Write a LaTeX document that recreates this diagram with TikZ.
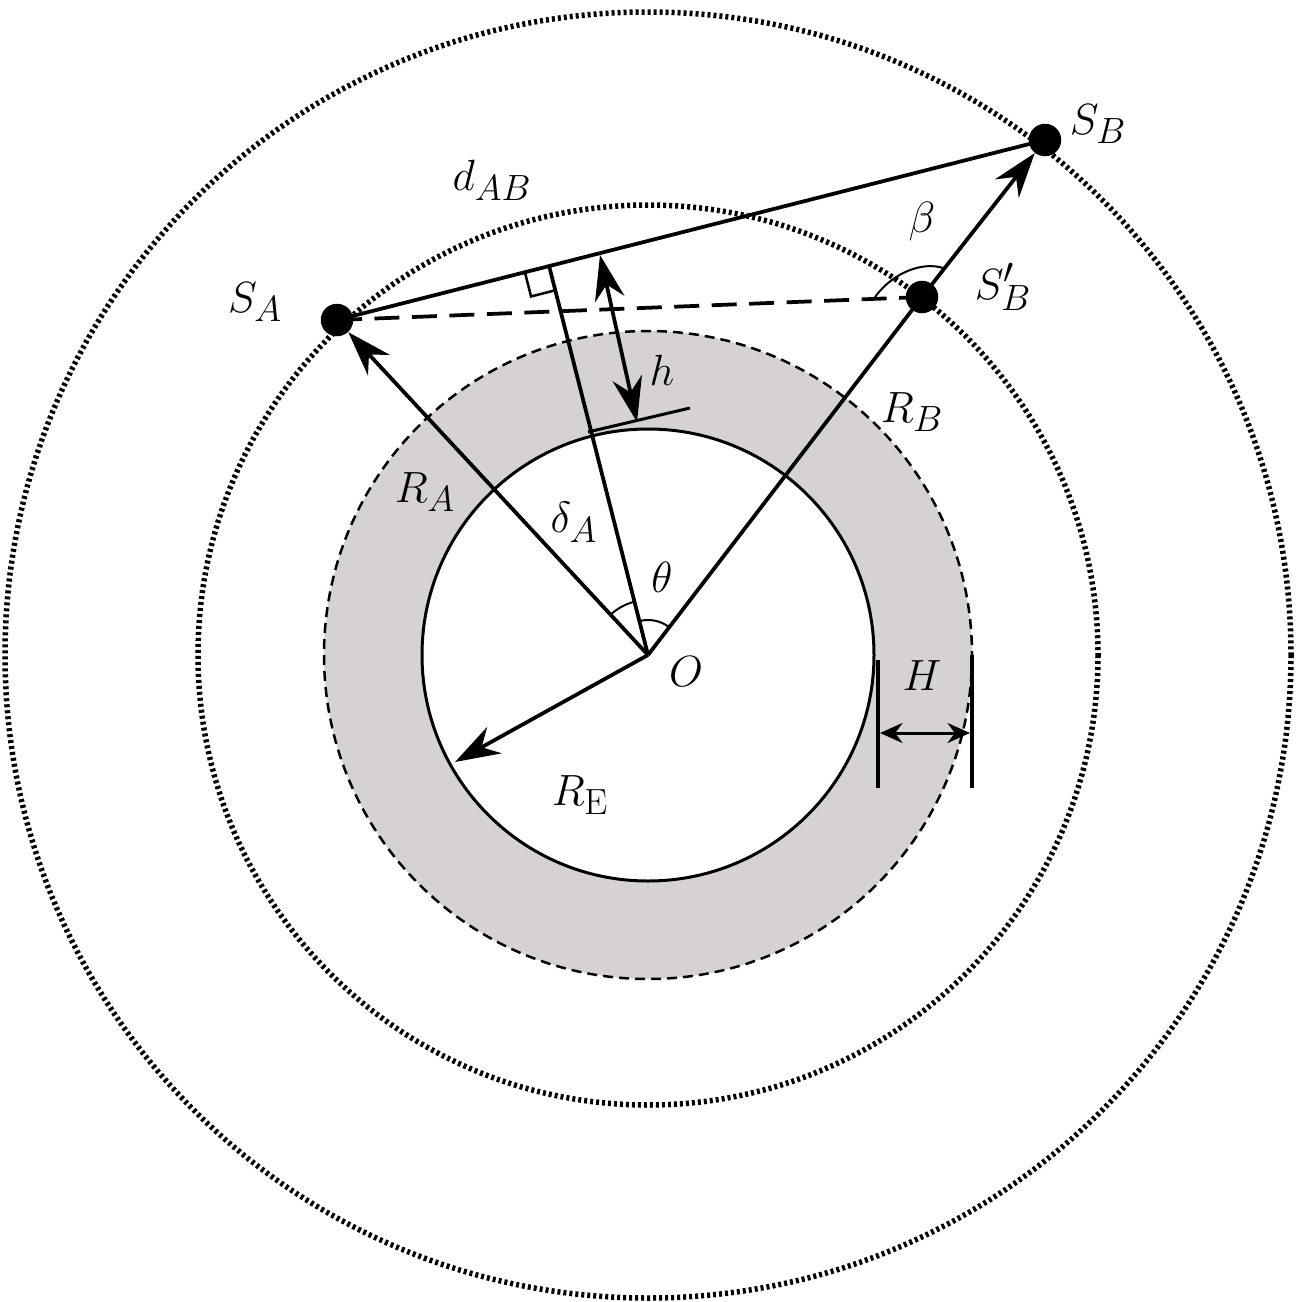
\documentclass[tikz,border=0pt]{standalone}
\usetikzlibrary{arrows.meta,calc,angles}
\definecolor{ringgray}{HTML}{D6D2D2}
\begin{document}
\begin{tikzpicture}[x=0.2mm,y=-0.2mm,
  ln/.style={line width=0.75mm},
  arr/.style={ln,-{Stealth[length=9mm,width=6mm]}},
  dotc/.style={line width=1.1mm,dash pattern=on 0.6mm off 0.6mm},
  lbl/.style={font=\fontsize{32}{36}\selectfont\itshape},
  dotn/.style={circle,fill=black,inner sep=0pt,minimum size=6.5mm}]
\useasboundingbox (0,0) rectangle (1299,1302);
\coordinate (O) at (648,655);
\fill[even odd rule,fill=ringgray] (O) circle[radius=324] (O) circle[radius=226];
\draw[line width=0.5mm,dash pattern=on 2mm off 1.2mm] (O) circle[radius=324];
\draw[line width=0.6mm] (O) circle[radius=226];
\draw[dotc] (O) circle[radius=450];
\draw[dotc] (O) circle[radius=643];
\node[dotn] (SA) at (337,320) {};
\node[dotn] (SB) at (1045,140) {};
\node[dotn] (SBp) at (922,297) {};
\coordinate (A) at (SA.center);
\coordinate (B) at (SB.center);
\coordinate (Bp) at (SBp.center);
\coordinate (F) at ($(A)!(O)!(B)$);
\draw[ln] (A) -- (B);
\draw[ln,dash pattern=on 5mm off 2.5mm] (A) -- (Bp);
\draw[arr] (O) -- (SA);
\draw[ln] (O) -- (Bp);
\draw[arr] (Bp) -- (SB);
\coordinate (RE) at (455,762);
\draw[arr] (O) -- (RE);
\draw[ln] (O) -- (F);
% right angle mark
\coordinate (P1) at ($(F)!5mm!(A)$);
\coordinate (P3) at ($(F)!5mm!(O)$);
\draw[line width=0.5mm] (P1) -- ($(P1)+(P3)-(F)$) -- (P3);
% h
\coordinate (h1) at (600,255);
\coordinate (h2) at (637,422);
\draw[ln,{Stealth[length=9mm,width=6mm]}-{Stealth[length=9mm,width=6mm]}] (h1) -- (h2);
\draw[line width=0.6mm] (588,432) -- (690,408);
% angle arcs
\pic[draw,line width=0.4mm,angle radius=11mm] {angle=F--O--A};
\pic[draw,line width=0.4mm,angle radius=7mm] {angle=Bp--O--F};
% beta arc
\draw[line width=0.4mm] (875,297) .. controls (895,270) and (925,262) .. (943,268);
% H
\draw[ln] (878,660) -- (878,788);
\draw[ln] (972,655) -- (972,788);
\draw[line width=0.6mm,{Stealth[length=4.5mm,width=4mm]}-{Stealth[length=4.5mm,width=4mm]}] (880,733) -- (970,733);
% labels
\node[lbl] at (255,302) {$S_A$};
\node[lbl] at (1098,124) {$S_B$};
\node[lbl] at (1003,287) {$S_B'$};
\node[lbl] at (492,180) {$d_{AB}$};
\node[lbl] at (922,222) {$\beta$};
\node[lbl] at (662,370) {$h$};
\node[lbl] at (912,412) {$R_B$};
\node[lbl] at (425,492) {$R_A$};
\node[lbl] at (574,522) {$\delta_A$};
\node[lbl] at (662,577) {$\theta$};
\node[lbl] at (686,672) {$O$};
\node[lbl] at (580,795) {$R_{\mathrm{E}}$};
\node[lbl] at (922,676) {$H$};
\end{tikzpicture}
\end{document}
